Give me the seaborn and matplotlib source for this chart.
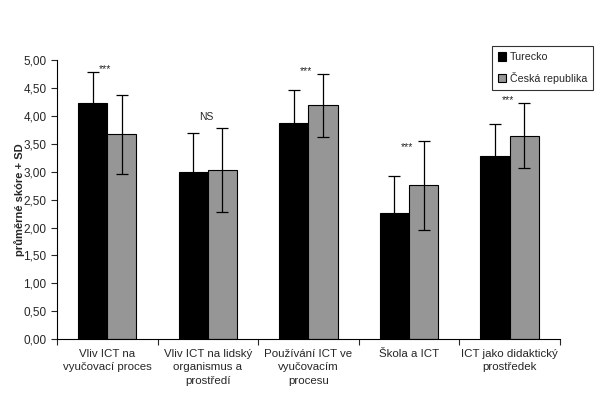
import matplotlib.pyplot as plt
import matplotlib.ticker as mticker
import pandas as pd
import seaborn as sns

categories = [
    "Vliv ICT na\nvyučovací proces",
    "Vliv ICT na lidský\norganismus a\nprostředí",
    "Používání ICT ve\nvyučovacím\nprocesu",
    "Škola a ICT",
    "ICT jako didaktický\nprostředek",
]
groups = ["Turecko", "Česká republika"]
turecko_mean = [4.24, 2.99, 3.88, 2.27, 3.29]
turecko_sd = [0.55, 0.71, 0.59, 0.65, 0.57]
cr_mean = [3.67, 3.03, 4.19, 2.76, 3.65]
cr_sd = [0.71, 0.75, 0.56, 0.80, 0.59]
marks = ["***", "NS", "***", "***", "***"]
mark_y = [4.84, 3.98, 4.80, 3.44, 4.28]

df = pd.DataFrame({
    "kategorie": categories * 2,
    "skupina": [groups[0]] * 5 + [groups[1]] * 5,
    "skore": turecko_mean + cr_mean,
    "sd": turecko_sd + cr_sd,
})

sns.set_style("white")
plt.rcParams["font.family"] = ["Liberation Sans", "DejaVu Sans"]

fig = plt.figure(figsize=(5.98, 3.99), dpi=100)
ax = fig.add_axes([0.0953, 0.150, 0.841, 0.699])

sns.barplot(data=df, x="kategorie", y="skore", hue="skupina",
            palette=["#000000", "#969696"], width=0.58, gap=0,
            edgecolor="black", linewidth=0.8, errorbar=None, ax=ax)

# error bars (mean +- SD) placed at the centres of the drawn bars
for cont, grp in zip(ax.containers, groups):
    sub = df[df["skupina"] == grp]
    xs = [p.get_x() + p.get_width() / 2 for p in cont.patches]
    ax.errorbar(xs, sub["skore"], yerr=sub["sd"], fmt="none",
                ecolor="black", elinewidth=0.9, capsize=4, capthick=0.9)

for i, (m, y) in enumerate(zip(marks, mark_y)):
    ax.text(i - 0.02, y, m, ha="center", va="center", fontsize=7.5)

ax.set_ylim(0, 5)
ax.set_xlim(-0.5, 4.5)
ax.yaxis.set_major_locator(mticker.MultipleLocator(0.5))
ax.yaxis.set_major_formatter(mticker.FuncFormatter(lambda v, p: f"{v:.2f}".replace(".", ",")))
ax.set_xticks(range(5))
ax.set_xticklabels(categories, fontsize=8.25, linespacing=1.45)
ax.set_xticks([i - 0.5 for i in range(6)], minor=True)
ax.tick_params(axis="x", which="major", length=0, pad=7)
ax.tick_params(axis="x", which="minor", length=4, width=0.8, direction="out", bottom=True)
ax.tick_params(axis="y", length=4, width=0.8, direction="out", left=True, labelsize=8.5)
ax.set_xlabel("")
ax.set_ylabel("průměrné skóre + SD", fontsize=8, fontweight="bold", labelpad=-1)
for s in ["top", "right"]:
    ax.spines[s].set_visible(False)
for s in ["left", "bottom"]:
    ax.spines[s].set_color("black")
    ax.spines[s].set_linewidth(0.8)

leg = ax.legend(loc="upper left", bbox_to_anchor=(0.865, 1.05), fontsize=7.7,
                frameon=True, fancybox=False, edgecolor="black",
                handlelength=0.8, handleheight=0.8, handletextpad=0.3,
                borderpad=0.55, labelspacing=0.9, borderaxespad=0)
leg.get_frame().set_linewidth(0.8)

fig.savefig("out.png", dpi=100)
